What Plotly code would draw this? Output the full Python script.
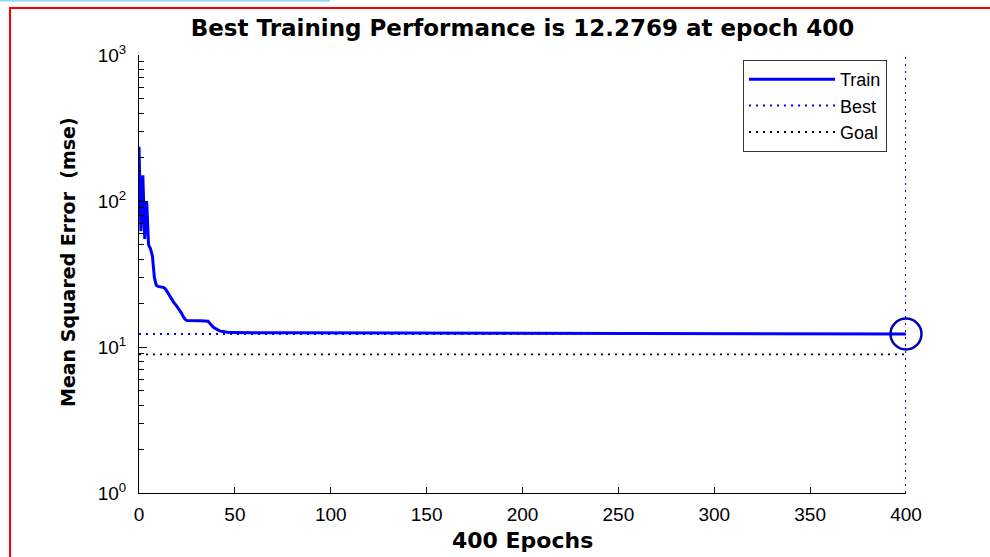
import plotly.graph_objects as go

# ---- data ----
epochs = [0, 1, 2, 3, 4, 5, 6, 7, 8, 9, 10, 12, 13, 14, 15, 16, 17, 18, 19, 20,
          21, 22, 23, 24, 25, 28, 32, 36, 37, 38, 39, 40, 41, 42, 43, 44, 45, 46,
          48, 50, 60, 80, 100, 150, 200, 218, 219, 250, 300, 350, 400]
train_mse = [235, 62, 150, 55, 100, 50, 47, 42, 30, 26.5, 26, 25.8, 25.5, 24.8,
             23.5, 22.5, 21.5, 20.3, 19.6, 18.8, 18.2, 17.2, 16.2, 15.5, 15.2,
             15.2, 15.1, 15.0, 14.6, 14.0, 13.6, 13.3, 13.1, 12.9, 12.8, 12.7,
             12.65, 12.6, 12.58, 12.55, 12.52, 12.5, 12.48, 12.47, 12.46, 12.45,
             12.33, 12.31, 12.3, 12.29, 12.2769]
best_epoch = 400
best_perf = 12.2769
goal = 8.9
x_range = [0, 400]
y_range_exp = [0, 3]
x_ticks = [0, 50, 100, 150, 200, 250, 300, 350, 400]
y_ticks = [1, 10, 100, 1000]
y_ticktext = ["10<sup>0</sup>", "10<sup>1</sup>", "10<sup>2</sup>", "10<sup>3</sup>"]
y_minor_ticks = [m * 10 ** e for e in range(3) for m in range(2, 10)]
title_text = f"Best Training Performance is {best_perf} at epoch {best_epoch}"

fig = go.Figure()

fig.add_trace(go.Scatter(
    x=epochs, y=train_mse, mode="lines", name="Train",
    line=dict(color="#0000ff", width=3)))

fig.add_trace(go.Scatter(
    x=[x_range[0], x_range[1], None, best_epoch, best_epoch],
    y=[best_perf, best_perf, None, 10 ** y_range_exp[0], 10 ** y_range_exp[1]],
    mode="lines", name="Best",
    line=dict(color="#0000ff", width=2, dash="2px,5px")))

fig.add_trace(go.Scatter(
    x=[x_range[0], x_range[1]], y=[goal, goal], mode="lines", name="Goal",
    line=dict(color="#000000", width=1.8, dash="2px,5px")))

fig.add_trace(go.Scatter(
    x=[best_epoch], y=[best_perf], mode="markers", showlegend=False,
    marker=dict(symbol="circle-open", size=31, color="#0000b4",
                line=dict(width=2.5, color="#0000b4")),
    cliponaxis=False))

fig.update_layout(
    width=990, height=557,
    margin=dict(l=139, r=84, t=55, b=64),
    paper_bgcolor="white", plot_bgcolor="white",
    font=dict(family="Liberation Sans, Arial", color="black"),
    title=dict(text=f"<b>{title_text}</b>",
               font=dict(family="DejaVu Sans", size=23, color="black"),
               x=0.5, xref="paper", xanchor="center",
               y=1 - 28 / 557, yref="container", yanchor="middle"),
    xaxis=dict(range=x_range, tickvals=x_ticks, ticks="inside", ticklen=6,
               tickcolor="black", showline=True, linecolor="black", linewidth=1,
               showgrid=False, zeroline=False, tickfont=dict(size=19),
               ticklabelstandoff=4),
    yaxis=dict(type="log", range=y_range_exp, tickvals=y_ticks,
               ticktext=y_ticktext, ticks="inside", ticklen=8,
               tickcolor="black", showline=True, linecolor="black",
               linewidth=1, showgrid=False, zeroline=False,
               tickfont=dict(size=19), ticklabelstandoff=8,
               minor=dict(tickvals=y_minor_ticks, ticks="inside", ticklen=5,
                          tickcolor="black", showgrid=False)),
    legend=dict(x=0.7875, y=0.9886, xanchor="left", yanchor="top",
                bgcolor="white", bordercolor="#333333", borderwidth=1,
                font=dict(size=18), itemwidth=86, tracegroupgap=0),
    showlegend=True,
)

fig.add_annotation(text="<b>400 Epochs</b>", xref="paper", yref="paper",
                   x=0.5, y=(493 - 540) / 438, xanchor="center", yanchor="middle",
                   showarrow=False, font=dict(family="DejaVu Sans", size=22))
fig.add_annotation(text="<b>Mean Squared Error  (mse)</b>", xref="paper", yref="paper",
                   x=(68 - 139) / 767, y=(493 - 262) / 438, xanchor="center",
                   yanchor="middle", textangle=-90, showarrow=False,
                   font=dict(family="DejaVu Sans", size=19))

# frame decorations
fig.add_shape(type="rect", xref="paper", yref="paper",
              x0=(10 - 139) / 767, x1=(995 - 139) / 767,
              y0=(493 - 565) / 438, y1=(493 - 8) / 438,
              line=dict(color="#ff0000", width=2), fillcolor="rgba(0,0,0,0)")
fig.add_shape(type="line", xref="paper", yref="paper",
              x0=(0 - 139) / 767, x1=(330 - 139) / 767,
              y0=(493 - 0.5) / 438, y1=(493 - 0.5) / 438,
              line=dict(color="#8fd6f2", width=2))

fig.write_html("out.html", config={"displayModeBar": False},
               post_script="document.body.style.margin='0px';document.body.style.overflow='hidden';")
